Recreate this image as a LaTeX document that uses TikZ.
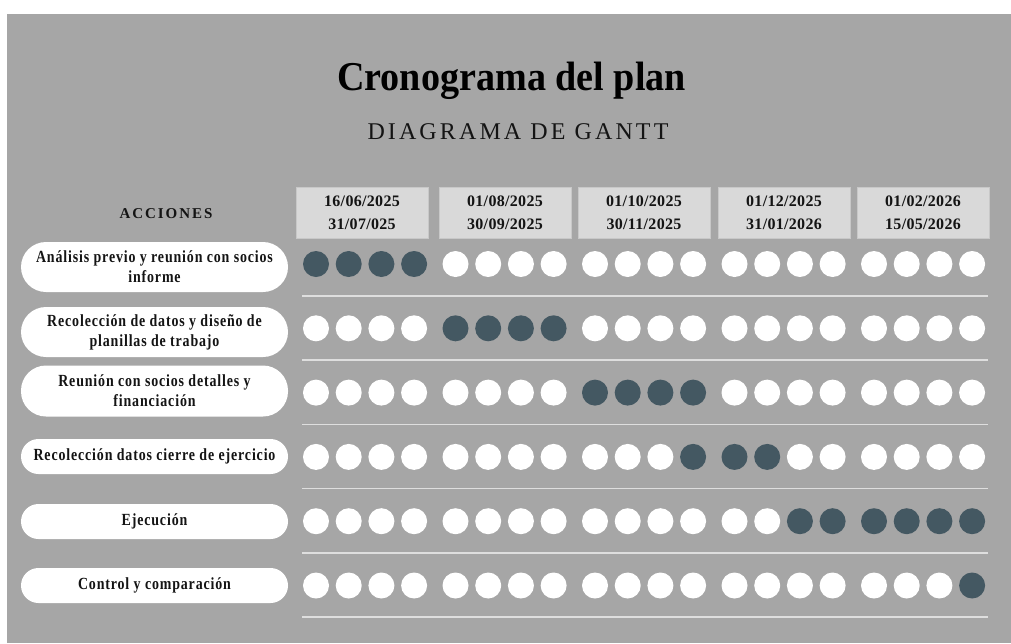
\documentclass[tikz,border=0pt]{standalone}
\usepackage{fontspec}
\usepackage{tikz}
\setmainfont{Liberation Serif}
\newfontfamily\titlefont[FakeStretch=0.93]{Liberation Serif}
\newfontfamily\subfont[LetterSpace=13]{Liberation Serif}
\newfontfamily\headfont[LetterSpace=13]{Liberation Serif}
\newfontfamily\datefont[LetterSpace=2]{Liberation Serif}
\newfontfamily\labelfont[FakeStretch=0.82,LetterSpace=5]{Liberation Serif}

\definecolor{bggray}{RGB}{166,166,166}
\definecolor{boxfill}{RGB}{217,217,217}
\definecolor{boxline}{RGB}{200,200,200}
\definecolor{sepline}{RGB}{222,222,222}
\definecolor{dotdark}{RGB}{68,88,98}
\definecolor{ink}{RGB}{20,20,20}

\tikzset{
  datebox/.style={draw=boxline, line width=1pt, fill=boxfill, minimum width=132pt, minimum height=51pt, inner sep=0pt, align=center, text=ink, font=\datefont\bfseries\fontsize{16}{22.6}\selectfont},
  pill/.style={fill=white, minimum width=267pt, inner sep=0pt, align=center, text=ink, font=\labelfont\bfseries\fontsize{17}{20}\selectfont},
  dot/.style={circle, minimum size=26pt, inner sep=0pt},
  rowline/.style={draw=sepline, line width=1.5pt}
}

\begin{document}
\begin{tikzpicture}[x=1pt, y=-1pt]
\useasboundingbox (0,0) rectangle (1011,643);
\fill[white] (0,0) rectangle (1011,643);
\fill[bggray] (7,14) rectangle (1011,643);

\node[anchor=base, text=black, font=\titlefont\bfseries\fontsize{41}{46}\selectfont](title) at (511.5,90) {Cronograma del plan};
\node[anchor=base, text=ink, font=\subfont\fontsize{24}{28}\selectfont](subtitle) at (518,139) {DIAGRAMA DE GANTT};

\node[anchor=base, text=ink, font=\headfont\bfseries\fontsize{15}{18}\selectfont](acciones) at (166,218) {ACCIONES};

\node[datebox](d1) at (362,212.5) {16/06/2025\\31/07/025};
\node[datebox](d2) at (505,212.5) {01/08/2025\\30/09/2025};
\node[datebox](d3) at (644,212.5) {01/10/2025\\30/11/2025};
\node[datebox](d4) at (784,212.5) {01/12/2025\\31/01/2026};
\node[datebox](d5) at (923,212.5) {01/02/2026\\15/05/2026};

\node[pill, minimum height=50pt, rounded corners=25pt](a1) at (154.5,267) {Análisis previo y reunión con socios\\informe};
\node[pill, minimum height=50pt, rounded corners=25pt](a2) at (154.5,332) {Recolección de datos y diseño de\\planillas de trabajo};
\node[pill, minimum height=51pt, rounded corners=25pt](a3) at (154.5,391) {Reunión con socios detalles y\\financiación};
\node[pill, minimum height=35pt, rounded corners=17.5pt](a4) at (154.5,456.5) {Recolección datos cierre de ejercicio};
\node[pill, minimum height=35pt, rounded corners=17.5pt](a5) at (154.5,521.5) {Ejecución};
\node[pill, minimum height=35pt, rounded corners=17.5pt](a6) at (154.5,585.5) {Control y comparación};

\foreach \r/\a/\b/\y in {1/1/4/264, 2/5/8/328.3, 3/9/12/392.6, 4/12/14/456.9, 5/15/20/521.2, 6/20/20/585.5}{
  \foreach \c in {1,...,20}{
    \pgfmathtruncatemacro\g{div(\c-1,4)}
    \pgfmathtruncatemacro\k{mod(\c-1,4)}
    \ifnum\c<\a \def\col{white}\else\ifnum\c>\b \def\col{white}\else\def\col{dotdark}\fi\fi
    \node[dot, fill=\col](r\r c\c) at ({316+139.5*\g+32.7*\k},\y) {};
  }
}

\foreach \i in {1,...,6}{
  \coordinate (sl\i) at (302,{296+64.2*(\i-1)});
  \coordinate (sr\i) at (988,{296+64.2*(\i-1)});
  \path[rowline] (sl\i) -- (sr\i);
}
\end{tikzpicture}
\end{document}
